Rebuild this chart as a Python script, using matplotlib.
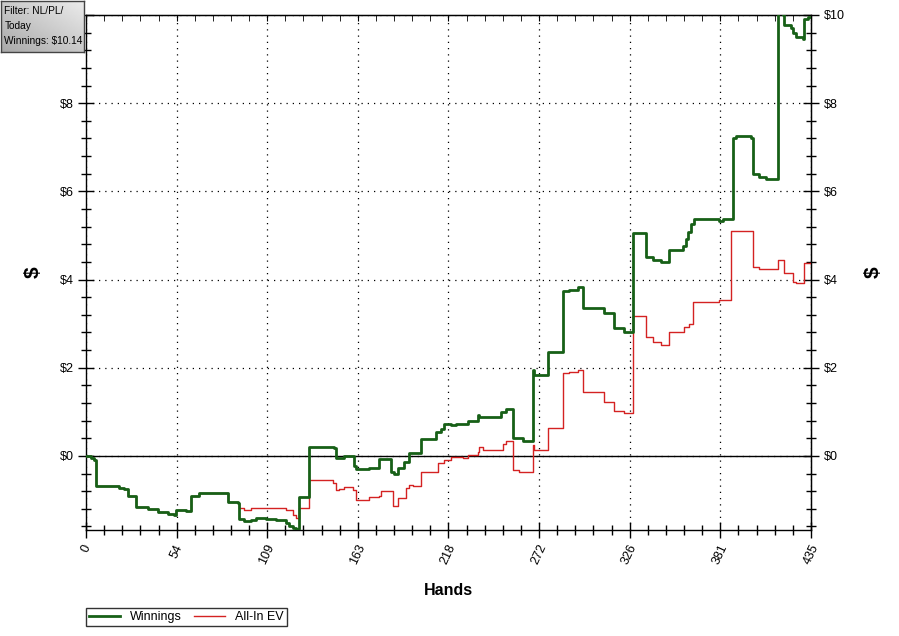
import matplotlib
matplotlib.use("Agg")
import matplotlib.pyplot as plt
import numpy as np
from matplotlib.ticker import MultipleLocator, FixedLocator

plt.rcParams['font.family'] = ['Liberation Sans', 'DejaVu Sans']

# data (hand number where the value changes, value in $)
win_hands = [0, 3, 5, 6, 17, 20, 23, 25, 30, 37, 43, 49, 53, 54, 60, 63, 68, 83, 85, 91,
             92, 95, 99, 102, 108, 114, 120, 122, 124, 126, 128, 134, 143, 149, 150, 155,
             161, 162, 170, 176, 183, 185, 187, 191, 194, 201, 210, 213, 215, 219, 222,
             229, 235, 236, 249, 252, 256, 262, 268, 269, 277, 286, 290, 295, 298, 311,
             317, 323, 328, 336, 340, 345, 350, 358, 360, 361, 363, 365, 380, 382,
             388, 390, 399, 400, 404, 408, 415, 418, 419, 423, 424, 426, 430, 431, 433, 435]
win_vals = [0.0, -0.05, -0.09, -0.68, -0.68, -0.72, -0.75, -0.90, -1.15, -1.20, -1.27, -1.31, -1.34, -1.22, -1.26, -0.92, -0.83, -0.85, -1.04, -1.06,
            -1.43, -1.48, -1.46, -1.40, -1.42, -1.45, -1.51, -1.59, -1.63, -1.66, -0.93, 0.20, 0.20, 0.17, -0.05, 0.00,
            -0.23, -0.30, -0.27, -0.07, -0.36, -0.41, -0.27, -0.14, 0.07, 0.38, 0.55, 0.60, 0.72, 0.70, 0.72,
            0.79, 0.93, 0.89, 1.00, 1.07, 0.40, 0.33, 1.95, 1.84, 2.36, 3.74, 3.76, 3.83, 3.36, 3.24,
            2.90, 2.81, 5.05, 4.52, 4.44, 4.40, 4.67, 4.75, 4.92, 5.08, 5.25, 5.37, 5.33, 5.38,
            7.21, 7.25, 7.21, 6.39, 6.33, 6.28, 10.3, 10.0, 9.77, 9.70, 9.59, 9.50, 9.45, 9.90, 9.95, 9.95]

ev_hands = [0, 3, 5, 6, 17, 20, 23, 25, 30, 37, 43, 49, 53, 54, 60, 63, 68, 83, 85, 91,
            92, 95, 99, 102, 114, 120, 124, 126, 128, 134, 148, 150, 152, 155, 160, 162,
            170, 176, 177, 184, 187, 192, 194, 196, 201, 211, 215, 219, 226, 229, 235,
            236, 238, 250, 252, 256, 260, 268, 269, 277, 286, 290, 295, 298, 311, 317,
            323, 328, 336, 340, 345, 350, 357, 359, 362, 364, 380, 387, 400, 404, 415,
            419, 424, 426, 431, 435]
ev_vals = [0.0, -0.05, -0.09, -0.68, -0.68, -0.72, -0.75, -0.90, -1.15, -1.20, -1.27, -1.31, -1.34, -1.22, -1.26, -0.92, -0.83, -0.85, -1.04, -1.06,
           -1.18, -1.22, -1.19, -1.18, -1.19, -1.22, -1.34, -1.40, -1.19, -0.55, -0.61, -0.77, -0.75, -0.70, -0.77, -1.00,
           -0.93, -0.90, -0.79, -1.13, -0.96, -0.73, -0.66, -0.68, -0.36, -0.16, -0.10, -0.02, -0.05, 0.02, 0.09,
           0.20, 0.14, 0.27, 0.33, -0.32, -0.37, 0.25, 0.14, 0.64, 1.88, 1.90, 1.95, 1.45, 1.22, 1.02,
           0.97, 3.17, 2.70, 2.58, 2.52, 2.81, 2.81, 2.93, 2.99, 3.49, 3.54, 5.10, 4.29, 4.24, 4.44,
           4.15, 3.95, 3.92, 4.37, 4.35]

x_ticks = [0, 54, 109, 163, 218, 272, 326, 381, 435]
y_ticks = [0, 2, 4, 6, 8, 10]
filter_lines = ["Filter: NL/PL/", "Today", "Winnings: $10.14"]

fig = plt.figure(figsize=(8.99, 6.36), dpi=100)
ax = fig.add_axes([86/899, 1-530/636, 725/899, 515/636])

ax.plot(ev_hands, ev_vals, drawstyle='steps-post', color='#d42222', lw=1, zorder=3, label='All-In EV')
ax.plot(win_hands, win_vals, drawstyle='steps-post', color='#176017', lw=2, zorder=4, label='Winnings')
ax.axhline(0, color='black', lw=1, zorder=2)

ax.set_xlim(0, 435)
ax.set_ylim(-1.68, 10)

tick_pos = [i * 435 / 8 for i in range(9)]
ax.xaxis.set_major_locator(FixedLocator(tick_pos))
ax.set_xticklabels([str(t) for t in x_ticks], rotation=65, fontsize=9)
ax.xaxis.set_minor_locator(FixedLocator([i * 435 / 40 for i in range(41)]))
ax.set_yticks(y_ticks)
# the $10 label on the left sits under the filter box
ax.set_yticklabels(['$' + str(v) if v < 10 else '' for v in y_ticks], fontsize=9)
ax.yaxis.set_minor_locator(MultipleLocator(0.4))

ax.tick_params(which='major', direction='inout', length=12, width=1, pad=3)
ax.tick_params(which='minor', direction='inout', length=7, width=1)

ax.grid(True, which='major', color='black', linestyle=(0, (1, 4)), lw=0.9)

# right axis copy
ax_r = ax.secondary_yaxis('right')
ax_r.set_yticks(y_ticks)
ax_r.set_yticklabels(['$' + str(v) for v in y_ticks], fontsize=9)
ax_r.yaxis.set_minor_locator(MultipleLocator(0.4))
ax_r.tick_params(which='major', direction='inout', length=12, width=1, pad=3)
ax_r.tick_params(which='minor', direction='inout', length=7, width=1)
ax_r.set_ylabel('$', fontsize=15, fontweight='bold', labelpad=14)

# top ticks
ax_t = ax.secondary_xaxis('top')
ax_t.xaxis.set_major_locator(FixedLocator(tick_pos))
ax_t.xaxis.set_minor_locator(FixedLocator([i * 435 / 40 for i in range(41)]))
ax_t.tick_params(which='both', direction='in', length=4, labeltop=False)

for s in ax.spines.values():
    s.set_linewidth(1)

ax.set_xlabel('Hands', fontsize=11.5, fontweight='bold', labelpad=12)
ax.set_ylabel('$', fontsize=15, fontweight='bold', labelpad=12)

handles, labels = ax.get_legend_handles_labels()
leg = fig.legend(handles[::-1], labels[::-1], loc='lower left',
                 bbox_to_anchor=(86/899, 1-626/636), ncol=2, fontsize=9,
                 frameon=True, fancybox=False, edgecolor='black', borderaxespad=0,
                 handlelength=2.5, handletextpad=0.8, columnspacing=0.9, borderpad=0.25)
leg.get_frame().set_linewidth(1)

# filter info box with a grey gradient
box = fig.add_axes([1/899, 1-52/636, 83/899, 51/636])
gx, gy = np.meshgrid(np.linspace(0, 1, 50), np.linspace(0, 1, 30))
grad = 0.66 + 0.26 * (0.5 * gx + 0.5 * (1 - gy))
box.imshow(grad, cmap='gray', vmin=0, vmax=1, aspect='auto', extent=(0, 1, 0, 1), origin='upper')
box.set_xticks([])
box.set_yticks([])
for s in box.spines.values():
    s.set_color('#444444')
    s.set_linewidth(1)
for i, line in enumerate(filter_lines):
    box.text(0.04, 0.80 - i * 0.29, line, fontsize=7.3, va='center', ha='left')

fig.savefig('out.png', dpi=100)
